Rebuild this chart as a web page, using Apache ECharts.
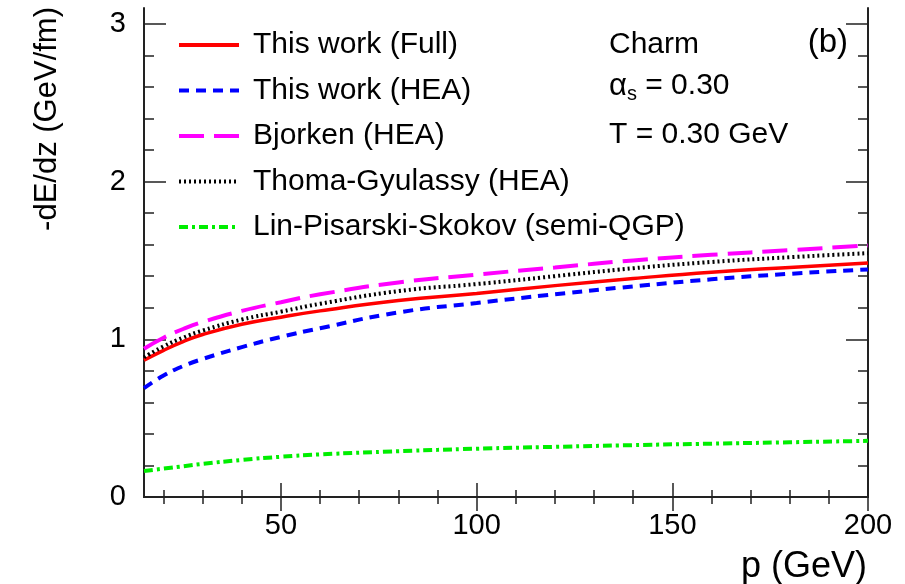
<!DOCTYPE html>
<html>
<head>
<meta charset="utf-8">
<title>-dE/dz charm</title>
<script src="https://cdn.jsdelivr.net/npm/echarts@6/dist/echarts.min.js"></script>
<style>
    html, body { margin: 0; padding: 0; background: #fff; }
    .box { width: 905px; height: 584px; }
</style>
</head>
<body>
<div class="box"></div>
<script>
; (function () {
    const FONT = '"Liberation Sans", Arial, sans-serif';

    // momentum p (GeV)
    const pValues = [15, 20, 25, 30, 40, 50, 60, 80, 100, 120, 140, 160, 180, 200];

    // -dE/dz (GeV/fm)
    const fullValues = [0.867, 0.93, 0.985, 1.03, 1.095, 1.14, 1.18, 1.245, 1.29, 1.34, 1.385, 1.425, 1.455, 1.483];
    const heaValues = [0.69, 0.77, 0.83, 0.875, 0.95, 1.015, 1.07, 1.17, 1.23, 1.285, 1.335, 1.38, 1.415, 1.443];
    const bjorkenValues = [0.94, 1.01, 1.065, 1.11, 1.18, 1.235, 1.285, 1.36, 1.41, 1.455, 1.5, 1.535, 1.565, 1.595];
    const thomaValues = [0.885, 0.955, 1.01, 1.055, 1.125, 1.175, 1.225, 1.305, 1.35, 1.4, 1.45, 1.49, 1.52, 1.546];
    const linValues = [0.165, 0.18, 0.195, 0.21, 0.235, 0.255, 0.27, 0.29, 0.306, 0.318, 0.329, 0.338, 0.347, 0.356];

    const seriesNames = [
        'This work (Full)',
        'This work (HEA)',
        'Bjorken (HEA)',
        'Thoma-Gyulassy (HEA)',
        'Lin-Pisarski-Skokov (semi-QGP)'
    ];

    const xMajor = [50, 100, 150, 200];
    const xMinor = [20, 30, 40, 60, 70, 80, 90, 110, 120, 130, 140, 160, 170, 180, 190];
    const yMajor = [0, 1, 2, 3];
    const yMinor = [0.2, 0.4, 0.6, 0.8, 1.2, 1.4, 1.6, 1.8, 2.2, 2.4, 2.6, 2.8];

    init();

    function init() {
        renderChart();
    }

    function toPoints(values) {
        return pValues.map((p, i) => [p, values[i]]);
    }

    function makeAxis(kind, position, ticks, len, showLine, showLabel) {
        const axis = {
            type: 'value',
            position: position,
            min: kind === 'x' ? 15 : 0,
            max: kind === 'x' ? 200 : 3.1,
            axisLine: { show: showLine, lineStyle: { color: '#222', width: 2 } },
            axisTick: {
                show: true,
                inside: true,
                length: len,
                customValues: ticks,
                lineStyle: { color: '#222', width: 1.5 }
            },
            axisLabel: { show: false },
            splitLine: { show: false }
        };
        if (showLabel) {
            axis.axisLabel = {
                show: true,
                customValues: ticks,
                color: '#000',
                fontSize: 29,
                fontFamily: FONT,
                margin: kind === 'x' ? 14 : 18
            };
        }
        return axis;
    }

    function line(name, values, color, width, dash) {
        return {
            name: name,
            type: 'line',
            data: toPoints(values),
            smooth: true,
            symbol: 'none',
            xAxisIndex: 0,
            yAxisIndex: 0,
            lineStyle: { color: color, width: width, type: dash, cap: 'butt' },
            itemStyle: { color: color }
        };
    }

    function renderChart() {
        const chartDom = document.getElementsByClassName('box')[0];
        const myChart = echarts.init(chartDom, null, { renderer: 'canvas' });
        const option = {
            backgroundColor: '#fff',
            animation: false,
            grid: { left: 144, right: 37, top: 8, bottom: 87 },
            xAxis: [
                makeAxis('x', 'bottom', xMajor, 14, true, true),
                makeAxis('x', 'bottom', xMinor, 7, false, false),
                makeAxis('x', 'top', xMajor, 14, true, false),
                makeAxis('x', 'top', xMinor, 7, false, false)
            ],
            yAxis: [
                makeAxis('y', 'left', yMajor, 22, true, true),
                makeAxis('y', 'left', yMinor, 10, false, false),
                makeAxis('y', 'right', yMajor, 22, true, false),
                makeAxis('y', 'right', yMinor, 10, false, false)
            ],
            legend: {
                orient: 'vertical',
                left: 177,
                top: 30,
                padding: 0,
                itemWidth: 60,
                itemHeight: 14,
                itemGap: 15.5,
                selectedMode: false,
                itemStyle: { opacity: 0 },
                lineStyle: { width: 4 },
                textStyle: {
                    fontSize: 30,
                    lineHeight: 30,
                    fontFamily: FONT,
                    color: '#000',
                    padding: [0, 0, 0, 9]
                },
                data: seriesNames
            },
            graphic: [
                {
                    type: 'text', x: 609, y: 45,
                    style: { text: 'Charm', fontSize: 30, fontFamily: FONT, fill: '#000', verticalAlign: 'middle' }
                },
                {
                    type: 'text', x: 609, y: 86,
                    style: {
                        text: '{a|α}{s|s}{b| = 0.30}',
                        verticalAlign: 'middle',
                        fill: '#000',
                        rich: {
                            a: { fontSize: 31, fontFamily: FONT },
                            s: { fontSize: 20, fontFamily: FONT, padding: [16, 0, 0, 0] },
                            b: { fontSize: 30, fontFamily: FONT }
                        }
                    }
                },
                {
                    type: 'text', x: 609, y: 135,
                    style: { text: 'T = 0.30 GeV', fontSize: 30, fontFamily: FONT, fill: '#000', verticalAlign: 'middle' }
                },
                {
                    type: 'text', x: 848, y: 43,
                    style: { text: '(b)', fontSize: 33, fontFamily: FONT, fill: '#000', align: 'right', verticalAlign: 'middle' }
                },
                {
                    type: 'text', x: 47, y: 7, rotation: Math.PI / 2,
                    style: { text: '-dE/dz (GeV/fm)', fontSize: 31, fontFamily: FONT, fill: '#000', align: 'right', verticalAlign: 'middle' }
                },
                {
                    type: 'text', x: 867, y: 567,
                    style: { text: 'p (GeV)', fontSize: 36, fontFamily: FONT, fill: '#000', align: 'right', verticalAlign: 'middle' }
                }
            ],
            series: [
                line(seriesNames[0], fullValues, '#ff0000', 3.5, 'solid'),
                line(seriesNames[1], heaValues, '#0000ff', 4, [10, 7]),
                line(seriesNames[2], bjorkenValues, '#ff00ff', 4, [25, 10]),
                line(seriesNames[3], thomaValues, '#000000', 4, [2, 3]),
                line(seriesNames[4], linValues, '#00ee00', 4, [9, 4, 3, 4])
            ]
        };

        myChart.setOption(option);
    }
})()
</script>
</body>
</html>
